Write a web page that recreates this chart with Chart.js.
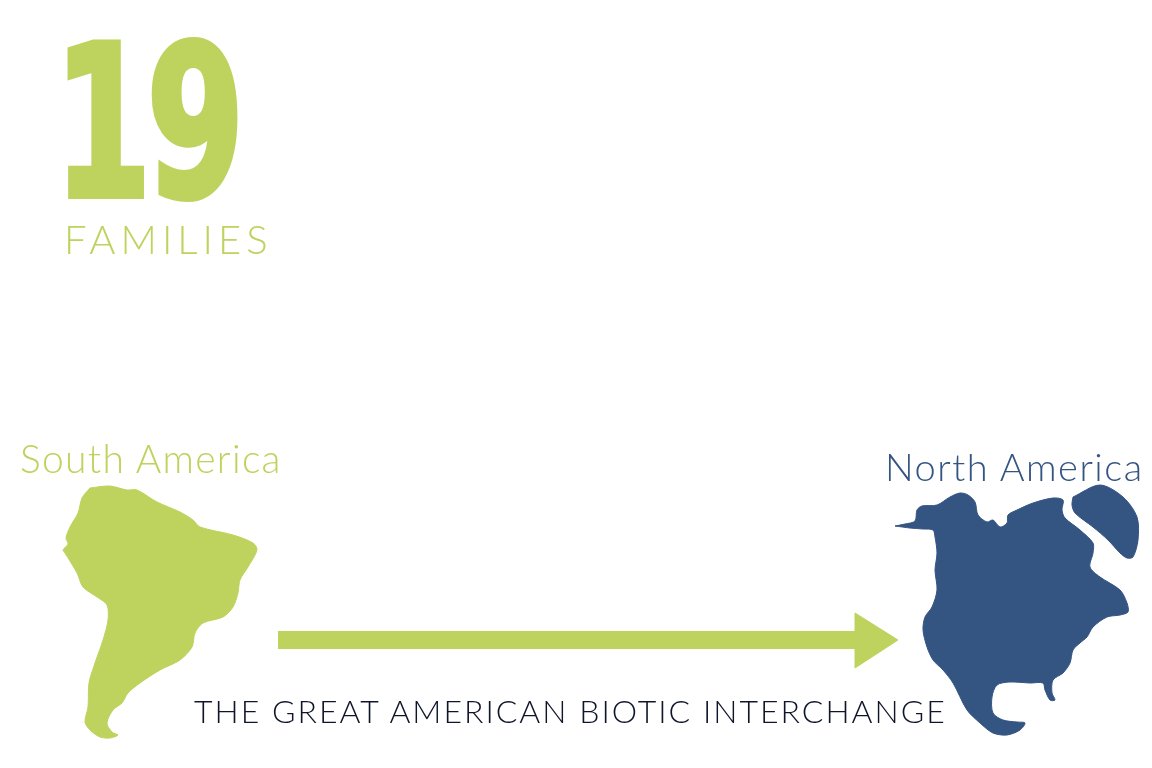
<!DOCTYPE html>
<html>
<head>
<meta charset="utf-8">
<script src="https://cdn.jsdelivr.net/npm/chart.js@4/dist/chart.umd.min.js"></script>
<style>
  body { margin: 0; background: #fff; }
  #wrap { position: relative; width: 1152px; height: 768px; overflow: hidden; }
  #map { position: absolute; left: 0; top: 0; }
  .txt { position: absolute; white-space: nowrap; line-height: 1; font-family: Lato, "Open Sans", sans-serif; font-weight: 300; }
  #big { left: 54px; top: 19px; font-family: "DejaVu Sans Condensed", "DejaVu Sans", sans-serif; font-weight: bold; font-size: 210px; color: #bdd35e; -webkit-text-stroke: 6px #bdd35e; transform: scaleX(0.74); transform-origin: left top; letter-spacing: -6px; }
  #fam { left: 64px; top: 219px; font-size: 40px; color: #bdd35e; letter-spacing: 5px; }
  #south { left: 20px; top: 439px; font-size: 39px; color: #bdd35e; letter-spacing: 1.3px; }
  #north { left: 885px; top: 447px; font-size: 38px; color: #345482; letter-spacing: 1.5px; }
  #title { left: 194px; top: 695px; font-size: 32px; color: #0f1529; letter-spacing: 2px; }
</style>
</head>
<body>
<div id="wrap">
  <canvas id="map" width="1152" height="768"></canvas>
  <div class="txt" id="big">19</div>
  <div class="txt" id="fam">FAMILIES</div>
  <div class="txt" id="south">South America</div>
  <div class="txt" id="north">North America</div>
  <div class="txt" id="title">THE GREAT AMERICAN BIOTIC INTERCHANGE</div>
</div>
<script>
// outlines, in picture coordinates
const southAmerica = [
  [90,488],[110,486],[127,490],[137,490],[157,502],[180,512],[193,520],[200,527],
  [233,535],[253,543],[257,550],[248,567],[240,580],[238,593],[233,607],[223,617],
  [203,623],[195,633],[192,647],[180,660],[160,670],[140,683],[128,693],[122,703],
  [113,710],[107,723],[112,732],[118,735],[110,738],[100,737],[90,730],[85,722],
  [88,707],[89,683],[95,663],[103,640],[108,620],[107,605],[97,597],[83,587],
  [77,573],[65,553],[63,550],[68,544],[66,538],[70,527],[78,513],[82,498],[90,488]
]
const northAmerica = [
  [895,526],[905,524],[915,521],[917,510],[922,506],[937,505],[950,497],[960,493],
  [968,495],[975,502],[978,515],[987,522],[993,520],[1000,527],[1007,523],[1008,515],
  [1017,510],[1033,503],[1053,498],[1063,500],[1062,510],[1065,518],[1080,530],
  [1093,543],[1093,553],[1090,567],[1100,577],[1120,590],[1127,603],[1128,612],
  [1120,615],[1107,617],[1093,627],[1087,637],[1080,643],[1073,650],[1070,663],
  [1063,673],[1053,680],[1052,693],[1055,700],[1050,700],[1045,690],[1043,683],
  [1030,683],[1010,682],[997,685],[992,697],[993,713],[1003,720],[1017,722],
  [1025,723],[1020,730],[1007,735],[993,733],[980,723],[967,710],[953,683],
  [943,670],[933,660],[927,647],[923,630],[925,617],[932,607],[937,590],[935,570],
  [937,553],[935,537],[933,530],[923,529],[910,528],[895,526]
]
const greenland = [
  [1073,497],[1100,485],[1123,497],[1137,517],[1138,540],[1133,557],[1127,558],
  [1120,553],[1108,540],[1093,527],[1075,513],[1072,505],[1073,497]
]
const arrowShaft = [[278,640],[856,640]]
const arrowHead = [[855,613],[898,640],[855,668],[855,613]]

const green = '#bdd35e'
const blue = '#345482'

let toPoints = pts => pts.map(p => ({x: p[0], y: p[1]}))

let shape = (pts, color, tension) => ({
  data: toPoints(pts),
  showLine: true,
  fill: 'shape',
  backgroundColor: color,
  borderColor: color,
  borderWidth: 1,
  pointRadius: 0,
  tension: tension
})

const ctx = document.getElementById('map').getContext('2d')
new Chart(ctx, {
  type: 'scatter',
  data: {
    datasets: [
      shape(southAmerica, green, 0.3),
      shape(northAmerica, blue, 0.3),
      shape(greenland, blue, 0.3),
      {
        data: toPoints(arrowShaft),
        showLine: true,
        borderColor: green,
        borderWidth: 18,
        borderCapStyle: 'butt',
        pointRadius: 0
      },
      shape(arrowHead, green, 0)
    ]
  },
  options: {
    responsive: false,
    animation: false,
    devicePixelRatio: 1,
    layout: { padding: 0 },
    plugins: { legend: { display: false }, tooltip: { enabled: false } },
    scales: {
      x: { type: 'linear', min: 0, max: 1152, display: false },
      y: { type: 'linear', min: 0, max: 768, reverse: true, display: false }
    }
  }
})
</script>
</body>
</html>
